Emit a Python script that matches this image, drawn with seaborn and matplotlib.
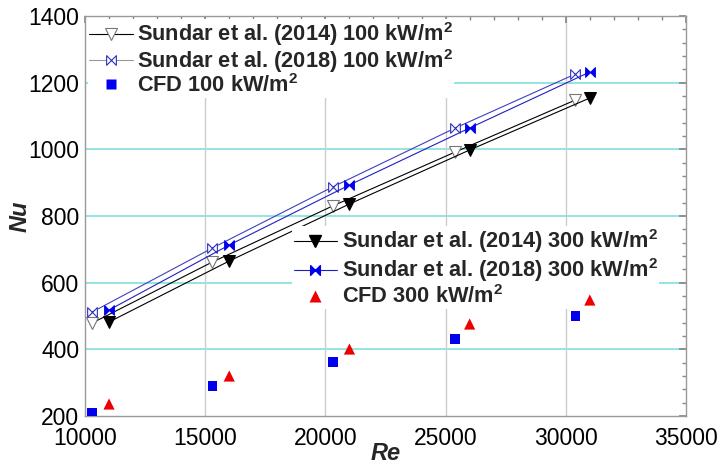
import numpy as np
import pandas as pd
import matplotlib
matplotlib.use("Agg")
import matplotlib.pyplot as plt
from matplotlib.path import Path
from matplotlib.ticker import MultipleLocator
from matplotlib.lines import Line2D
import seaborn as sns

# ---- data ----
re_100 = [10300, 15300, 20300, 25400, 30400]
re_300 = [11000, 16000, 21000, 26000, 31000]
sundar2014_100 = [479, 662, 830, 992, 1148]
sundar2018_100 = [512, 704, 887, 1064, 1226]
cfd_100 = [209, 290, 362, 431, 500]
sundar2014_300 = [482, 665, 836, 998, 1154]
sundar2018_300 = [518, 713, 893, 1064, 1232]
cfd_300 = [236, 320, 401, 476, 548]

labels_100 = ["Sundar et al. (2014) 100 kW/m$^\\mathbf{2}$",
              "Sundar et al. (2018) 100 kW/m$^\\mathbf{2}$",
              "CFD 100 kW/m$^\\mathbf{2}$"]
labels_300 = ["Sundar et al. (2014) 300 kW/m$^\\mathbf{2}$",
              "Sundar et al. (2018) 300 kW/m$^\\mathbf{2}$",
              "CFD 300 kW/m$^\\mathbf{2}$"]

sns.set_theme(style="white")
plt.rcParams['font.family'] = ['Liberation Sans', 'DejaVu Sans']
plt.rcParams['mathtext.fontset'] = 'custom'
plt.rcParams['mathtext.bf'] = 'Liberation Sans:bold'
plt.rcParams['mathtext.rm'] = 'Liberation Sans'

bowtie = Path([(-1, 1), (-1, -1), (1, 1), (1, -1), (-1, 1)],
              [Path.MOVETO, Path.LINETO, Path.LINETO, Path.LINETO, Path.CLOSEPOLY])

fig = plt.figure(figsize=(7.19, 4.69), dpi=100)
ax = fig.add_axes([85/719, 1-416/469, 601/719, 400/469])

TRI = 9
BOW = 7
sns.lineplot(x=re_100, y=sundar2014_100, ax=ax, color="black", lw=0.8,
             marker="v", markersize=TRI, markerfacecolor="white",
             markeredgecolor="#777777", markeredgewidth=0.8, sort=False,
             legend=False)
sns.lineplot(x=re_100, y=sundar2018_100, ax=ax, color="#4040c0", lw=0.8,
             marker=bowtie, markersize=BOW, markerfacecolor="white",
             markeredgecolor="#3030c0", markeredgewidth=0.8, sort=False,
             legend=False)
sns.scatterplot(x=re_100, y=cfd_100, ax=ax, color="#0000ee", marker="s",
                s=50, edgecolor="none", legend=False, zorder=6)
sns.lineplot(x=re_300, y=sundar2014_300, ax=ax, color="black", lw=0.8,
             marker="v", markersize=TRI, markerfacecolor="black",
             markeredgecolor="black", sort=False, legend=False)
sns.lineplot(x=re_300, y=sundar2018_300, ax=ax, color="#2020c0", lw=0.8,
             marker=bowtie, markersize=BOW, markerfacecolor="#0000ee",
             markeredgecolor="#0000ee", sort=False, legend=False)
sns.scatterplot(x=re_300, y=cfd_300, ax=ax, color="#ee0000", marker="^",
                s=65, edgecolor="none", legend=False, zorder=6)

ax.set_xlim(10000, 35000)
ax.set_ylim(200, 1400)
ax.xaxis.set_major_locator(MultipleLocator(5000))
ax.xaxis.set_minor_locator(MultipleLocator(1000))
ax.yaxis.set_major_locator(MultipleLocator(200))
ax.yaxis.set_minor_locator(MultipleLocator(40))
ax.tick_params(which="both", direction="in", top=True, right=True,
               colors="#888888", labelcolor="black", labelsize=16.5)
ax.tick_params(which="major", length=5)
ax.tick_params(which="minor", length=3)
ax.tick_params(axis="x", pad=8)
ax.tick_params(axis="y", pad=4)
for s in ax.spines.values():
    s.set_color("#999999")
    s.set_linewidth(1.0)

for yv in [400, 600, 800, 1000, 1200]:
    ax.axhline(yv, color="#80e0e0", lw=1.2, zorder=0)
for xv in [15000, 20000, 25000, 30000]:
    ax.axvline(xv, color="#cccccc", lw=1.0, zorder=0)

ax.set_xlabel("Re", fontsize=17, fontweight="bold", style="italic", labelpad=-6)
ax.set_ylabel("Nu", fontsize=17, fontweight="bold", style="italic", labelpad=-2)

hd1 = [Line2D([], [], color="black", lw=0.8, marker="v", markersize=TRI,
              markerfacecolor="white", markeredgecolor="#777777", markeredgewidth=0.8),
       Line2D([], [], color="#999999", lw=0.8, marker=bowtie, markersize=BOW,
              markerfacecolor="white", markeredgecolor="#3030c0", markeredgewidth=0.8),
       Line2D([], [], color="none", marker="s", markersize=7,
              markerfacecolor="#0000ee", markeredgecolor="none")]
hd2 = [Line2D([], [], color="black", lw=0.8, marker="v", markersize=TRI,
              markerfacecolor="black", markeredgecolor="black"),
       Line2D([], [], color="#2020c0", lw=0.8, marker=bowtie, markersize=BOW,
              markerfacecolor="#0000ee", markeredgecolor="#0000ee"),
       Line2D([], [], color="none", marker="^", markersize=8.5,
              markerfacecolor="#ee0000", markeredgecolor="none")]

prop = {"family": "Liberation Sans", "weight": "bold", "size": 15.7}
leg1 = ax.legend(hd1, labels_100, loc="upper left", bbox_to_anchor=(0.0, 1.0),
                 frameon=True, prop=prop, handlelength=2.0, handletextpad=0.2,
                 labelspacing=-0.05, borderpad=0.05, borderaxespad=0.15)
leg1.get_frame().set_edgecolor("none")
leg1.get_frame().set_facecolor("white")
leg1.get_frame().set_alpha(1)
ax.add_artist(leg1)
leg2 = ax.legend(hd2, labels_300, loc="upper left", bbox_to_anchor=(0.338, 0.485),
                 frameon=True, prop=prop, handlelength=2.0, handletextpad=0.2,
                 labelspacing=0.05, borderpad=0.05, borderaxespad=0.2)
leg2.get_frame().set_edgecolor("none")
leg2.get_frame().set_facecolor("white")
leg2.get_frame().set_alpha(1)

fig.savefig("out.png", dpi=100)
